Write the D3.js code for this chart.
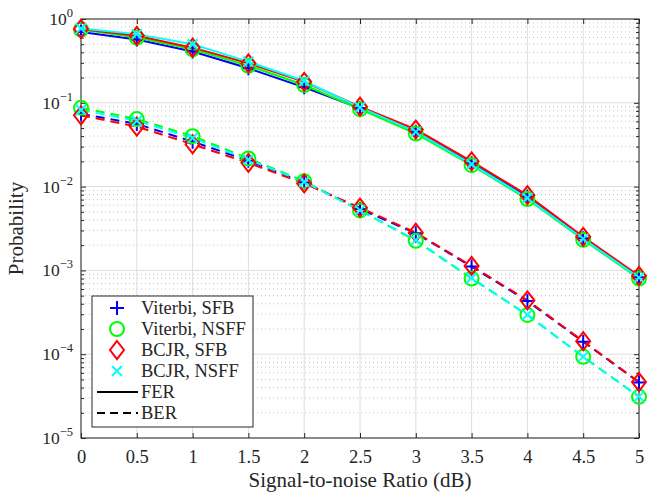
<!DOCTYPE html>
<html><head><meta charset="utf-8">
<script src="https://cdn.jsdelivr.net/npm/d3@7"></script>
<style>body{margin:0;background:#fff}svg{display:block}</style>
</head><body><svg id="c" width="654" height="493"></svg>
<script>
const snr = [0, 0.5, 1, 1.5, 2, 2.5, 3, 3.5, 4, 4.5, 5];
const xTicks = [0, 0.5, 1, 1.5, 2, 2.5, 3, 3.5, 4, 4.5, 5];
const yTickExps = [0, -1, -2, -3, -4, -5];
const seriesNames = ["Viterbi, SFB", "Viterbi, NSFF", "BCJR, SFB", "BCJR, NSFF"];
const seriesColors = ["#0000ff", "#00ff00", "#ff0000", "#00ffff"];
const seriesMarkers = ["plus", "circle", "diamond", "cross"];
const ferViterbiSFB  = [0.70, 0.57, 0.41, 0.258, 0.153, 0.086, 0.045, 0.0190, 0.0076, 0.00242, 0.00083];
const ferViterbiNSFF = [0.75, 0.60, 0.435, 0.277, 0.163, 0.084, 0.043, 0.0180, 0.0071, 0.00232, 0.00080];
const ferBCJRSFB     = [0.76, 0.63, 0.455, 0.296, 0.178, 0.090, 0.048, 0.0200, 0.0079, 0.00252, 0.00086];
const ferBCJRNSFF    = [0.77, 0.66, 0.50, 0.31, 0.182, 0.088, 0.045, 0.0185, 0.0073, 0.00238, 0.00082];
const berViterbiSFB  = [0.074, 0.056, 0.0344, 0.0204, 0.0112, 0.0054, 0.00277, 0.00111, 0.00043, 0.000141, 0.0000461];
const berViterbiNSFF = [0.087, 0.064, 0.040, 0.0217, 0.0116, 0.0052, 0.00226, 0.00080, 0.000294, 0.0000930, 0.0000310];
const berBCJRSFB     = [0.071, 0.052, 0.032, 0.0192, 0.0109, 0.0056, 0.00282, 0.00113, 0.00044, 0.000143, 0.0000465];
const berBCJRNSFF    = [0.082, 0.061, 0.038, 0.0210, 0.0114, 0.0052, 0.00230, 0.00081, 0.000295, 0.0000935, 0.0000312];
const ferData = [ferViterbiSFB, ferViterbiNSFF, ferBCJRSFB, ferBCJRNSFF];
const berData = [berViterbiSFB, berViterbiNSFF, berBCJRSFB, berBCJRNSFF];

const FONT = '"Liberation Serif", "Times New Roman", serif';
const svg = d3.select("#c");
const L = 81, R = 639, T = 19, B = 438;
const x = d3.scaleLinear().domain([0, 5]).range([L, R]);
const y = d3.scaleLog().domain([1e-5, 1]).range([B, T]);
const axisCol = "#262626";

// grid
const g = svg.append("g");
for (let e = -5; e < 0; e++) {
  for (let m = 2; m <= 9; m++) {
    const v = m * Math.pow(10, e);
    g.append("line").attr("x1", L).attr("x2", R).attr("y1", y(v)).attr("y2", y(v))
      .attr("stroke", "#b8b8b8").attr("stroke-width", 0.8).attr("stroke-dasharray", "1,3");
  }
}
xTicks.forEach(t => g.append("line").attr("x1", x(t)).attr("x2", x(t)).attr("y1", T).attr("y2", B)
  .attr("stroke", "#dedede").attr("stroke-width", 1));
yTickExps.forEach(e => g.append("line").attr("x1", L).attr("x2", R).attr("y1", y(Math.pow(10, e))).attr("y2", y(Math.pow(10, e)))
  .attr("stroke", "#dedede").attr("stroke-width", 1));

// axes via d3
const xb = svg.append("g").attr("transform", `translate(0,${B})`)
  .call(d3.axisBottom(x).tickValues(xTicks).tickSizeInner(-5).tickSizeOuter(0).tickPadding(12).tickFormat(d3.format("")));
const xt = svg.append("g").attr("transform", `translate(0,${T})`)
  .call(d3.axisTop(x).tickValues(xTicks).tickSizeInner(-5).tickSizeOuter(0).tickFormat(""));
const minorVals = [];
for (let e = -5; e < 0; e++) for (let m = 2; m <= 9; m++) minorVals.push(m * Math.pow(10, e));
const yl = svg.append("g").attr("transform", `translate(${L},0)`)
  .call(d3.axisLeft(y).tickValues(yTickExps.map(e => Math.pow(10, e))).tickSizeInner(-5).tickSizeOuter(0).tickFormat(""));
const ylm = svg.append("g").attr("transform", `translate(${L},0)`)
  .call(d3.axisLeft(y).tickValues(minorVals).tickSizeInner(-3).tickSizeOuter(0).tickFormat(""));
const yr = svg.append("g").attr("transform", `translate(${R},0)`)
  .call(d3.axisRight(y).tickValues(yTickExps.map(e => Math.pow(10, e))).tickSizeInner(-5).tickSizeOuter(0).tickFormat(""));
const yrm = svg.append("g").attr("transform", `translate(${R},0)`)
  .call(d3.axisRight(y).tickValues(minorVals).tickSizeInner(-3).tickSizeOuter(0).tickFormat(""));
[xb, xt, yl, ylm, yr, yrm].forEach(a => {
  a.select(".domain").remove();
  a.selectAll("line").attr("stroke", axisCol);
});
xb.selectAll("text").attr("fill", axisCol).style("font-family", FONT).style("font-size", "18.5px");

// y labels with superscripts
yTickExps.forEach(e => {
  const t = svg.append("text").attr("x", 73).attr("y", y(Math.pow(10, e)) + 6)
    .attr("text-anchor", "end").attr("fill", axisCol)
    .style("font-family", FONT).style("font-size", "17.5px");
  t.append("tspan").text("10");
  t.append("tspan").attr("dy", -8).style("font-size", "12.5px").text(e === 0 ? "0" : "\u2212" + (-e));
});

// frame
svg.append("rect").attr("x", L).attr("y", T).attr("width", R - L).attr("height", B - T)
  .attr("fill", "none").attr("stroke", axisCol).attr("stroke-width", 1);

function markerPath(type) {
  if (type === "plus") return "M-7,0H7M0,-7V7";
  if (type === "circle") return "M7,0A7,7 0 1,1 -7,0A7,7 0 1,1 7,0Z";
  if (type === "diamond") return "M0,-9L7,0L0,9L-7,0Z";
  return "M-5,-5L5,5M-5,5L5,-5";
}

const line = d3.line().x((d, i) => x(snr[i])).y(d => y(d));
const plot = svg.append("g");
[0, 1, 2, 3].forEach(s => {
  plot.append("path").datum(ferData[s]).attr("d", line).attr("fill", "none")
    .attr("stroke", seriesColors[s]).attr("stroke-width", 2);
  plot.append("path").datum(berData[s]).attr("d", line).attr("fill", "none")
    .attr("stroke", seriesColors[s]).attr("stroke-width", 2).attr("stroke-dasharray", "9,6");
});
[0, 1, 2, 3].forEach(s => {
  [ferData[s], berData[s]].forEach(arr => {
    plot.selectAll(null).data(arr).enter().append("path")
      .attr("transform", (d, i) => `translate(${x(snr[i])},${y(d)})`)
      .attr("d", markerPath(seriesMarkers[s])).attr("fill", "none")
      .attr("stroke", seriesColors[s]).attr("stroke-width", 2);
  });
});

// axis titles
svg.append("text").attr("x", (L + R) / 2).attr("y", 487).attr("text-anchor", "middle")
  .attr("fill", axisCol).style("font-family", FONT).style("font-size", "21px").text("Signal-to-noise Ratio (dB)");
svg.append("text").attr("transform", `translate(23,${(T + B) / 2}) rotate(-90)`).attr("text-anchor", "middle")
  .attr("fill", axisCol).style("font-family", FONT).style("font-size", "21px").text("Probability");

// legend
const lg = svg.append("g");
lg.append("rect").attr("x", 92).attr("y", 296).attr("width", 161).attr("height", 131)
  .attr("fill", "#fff").attr("stroke", axisCol).attr("stroke-width", 1);
const rowY = [308, 329, 350, 371, 392, 413];
function legText(yy, s) {
  lg.append("text").attr("x", 141).attr("y", yy + 6).attr("fill", axisCol)
    .style("font-family", FONT).style("font-size", "18.5px").text(s);
}
seriesNames.forEach((n, s) => {
  lg.append("path").attr("transform", `translate(117,${rowY[s]})`).attr("d", markerPath(seriesMarkers[s]))
    .attr("fill", "none").attr("stroke", seriesColors[s]).attr("stroke-width", 2);
  legText(rowY[s], n);
});
lg.append("line").attr("x1", 97).attr("x2", 138).attr("y1", rowY[4]).attr("y2", rowY[4])
  .attr("stroke", "#000").attr("stroke-width", 2);
legText(rowY[4], "FER");
lg.append("line").attr("x1", 97).attr("x2", 138).attr("y1", rowY[5]).attr("y2", rowY[5])
  .attr("stroke", "#000").attr("stroke-width", 2).attr("stroke-dasharray", "8,5");
legText(rowY[5], "BER");
</script></body></html>
